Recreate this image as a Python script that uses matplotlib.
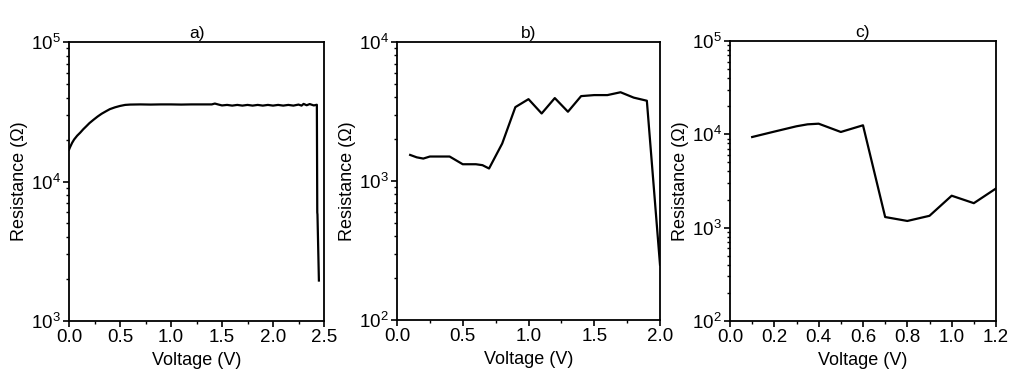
import numpy as np
import matplotlib.pyplot as plt
from matplotlib.ticker import MultipleLocator, LogLocator, NullFormatter

plt.rcParams['font.family'] = ['Liberation Sans', 'DejaVu Sans']

# panel a) - dense sweep
volt_a = [0.0, 0.01, 0.03, 0.05, 0.08, 0.11, 0.14, 0.17, 0.2, 0.24, 0.28,
          0.32, 0.36, 0.4, 0.45, 0.5, 0.55, 0.6, 0.7, 0.8, 0.9, 1.0, 1.1,
          1.2, 1.3, 1.4, 1.43, 1.46, 1.5, 1.55, 1.6, 1.65, 1.7, 1.75, 1.8,
          1.85, 1.9, 1.95, 2.0, 2.05, 2.1, 2.15, 2.2, 2.25, 2.28, 2.3, 2.33,
          2.36, 2.4, 2.43, 2.434, 2.436, 2.45]
res_a = [16900, 17600, 18900, 20000, 21300, 22400, 23700, 24900, 26200, 27700,
         29200, 30600, 31800, 33000, 34000, 34800, 35400, 35600, 35700, 35600,
         35700, 35700, 35600, 35700, 35700, 35700, 36200, 35700, 35100, 35400,
         35000, 35400, 35000, 35400, 35000, 35400, 35000, 35400, 35000, 35400,
         35000, 35400, 35000, 35600, 35000, 36000, 35200, 35900, 35100, 35500,
         6000, 5800, 1950]

# panel b)
volt_b = [0.1, 0.15, 0.2, 0.25, 0.3, 0.4, 0.5, 0.6, 0.65, 0.7, 0.8, 0.9, 1.0,
          1.1, 1.2, 1.3, 1.4, 1.5, 1.6, 1.7, 1.8, 1.9, 2.0]
res_b = [1540, 1480, 1450, 1500, 1500, 1500, 1320, 1320, 1300, 1230, 1860,
         3400, 3880, 3060, 3950, 3150, 4080, 4150, 4150, 4350, 3980, 3780, 250]

# panel c)
volt_c = [0.1, 0.2, 0.3, 0.35, 0.4, 0.5, 0.6, 0.7, 0.8, 0.9, 1.0, 1.1, 1.2]
res_c = [9360, 10700, 12200, 12800, 13000, 10600, 12500, 1300, 1180, 1340,
         2200, 1830, 2630]

panels = [
    ('a)', volt_a, res_a, (0, 2.5), 0.5, 0.25, (1e3, 1e5), (69, 42, 324, 321)),
    ('b)', volt_b, res_b, (0, 2.0), 0.5, 0.25, (1e2, 1e4), (397, 42, 660, 320)),
    ('c)', volt_c, res_c, (0, 1.2), 0.2, 0.1, (1e2, 1e5), (730, 41, 996, 321)),
]

W, H = 1017, 383
fig = plt.figure(figsize=(W / 100, H / 100), dpi=100)

for title, x, y, xlim, major, minor, ylim, box in panels:
    l, t, r, b = box
    ax = fig.add_axes([l / W, 1 - b / H, (r - l) / W, (b - t) / H])
    ax.plot(x, y, color='black', linewidth=1.6)
    ax.set_yscale('log')
    ax.set_xlim(*xlim)
    ax.set_ylim(*ylim)
    ax.xaxis.set_major_locator(MultipleLocator(major))
    ax.xaxis.set_minor_locator(MultipleLocator(minor))
    ax.yaxis.set_major_locator(LogLocator(base=10, numticks=10))
    ax.yaxis.set_minor_locator(LogLocator(base=10, subs=np.arange(2, 10), numticks=10))
    ax.yaxis.set_minor_formatter(NullFormatter())
    ax.xaxis.set_major_formatter(plt.FuncFormatter(lambda v, p: f'{v:.1f}'))
    for s in ax.spines.values():
        s.set_linewidth(1.3)
    ax.tick_params(which='major', direction='out', length=4, width=1.2, labelsize=13.5, pad=2)
    ax.tick_params(which='minor', direction='out', length=2.5, width=1.0)
    ax.set_xlabel('Voltage (V)', fontsize=13, labelpad=4)
    ax.set_ylabel('Resistance (Ω)', fontsize=13, labelpad=2)
    ax.set_title(title, fontsize=12.5, pad=3)

fig.savefig('out.png', dpi=100)
